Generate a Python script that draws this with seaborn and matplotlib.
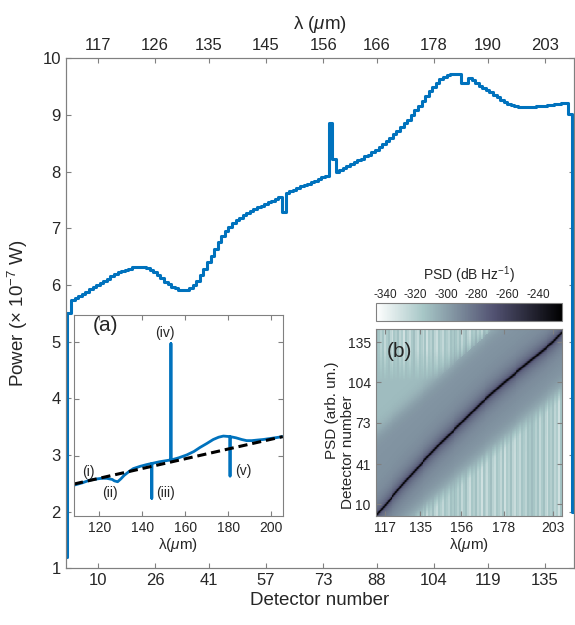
import numpy as np
import matplotlib
matplotlib.use("Agg")
import matplotlib.pyplot as plt
import seaborn as sns

# main curve: power per detector (x 1e-7 W)
detector = np.arange(1, 144)
power = [
    1.20, 5.50, 5.74, 5.77, 5.80, 5.84, 5.88, 5.93, 5.97, 6.00,
    6.04, 6.07, 6.11, 6.15, 6.19, 6.23, 6.25, 6.27, 6.29, 6.31,
    6.32, 6.32, 6.32, 6.30, 6.27, 6.23, 6.17, 6.12, 6.06, 6.01,
    5.97, 5.94, 5.92, 5.92, 5.92, 5.95, 6.00, 6.07, 6.17, 6.28,
    6.40, 6.52, 6.64, 6.76, 6.86, 6.95, 7.03, 7.09, 7.15, 7.19,
    7.23, 7.27, 7.30, 7.34, 7.37, 7.40, 7.43, 7.46, 7.49, 7.52,
    7.55, 7.28, 7.62, 7.65, 7.68, 7.71, 7.74, 7.76, 7.79, 7.82,
    7.84, 7.87, 7.90, 7.93, 8.85, 8.23, 8.00, 8.03, 8.07, 8.10,
    8.14, 8.17, 8.20, 8.23, 8.27, 8.30, 8.34, 8.38, 8.43, 8.48,
    8.54, 8.60, 8.66, 8.72, 8.78, 8.85, 8.92, 9.00, 9.08, 9.16,
    9.25, 9.34, 9.42, 9.50, 9.57, 9.63, 9.67, 9.70, 9.72, 9.73,
    9.73, 9.56, 9.56, 9.65, 9.61, 9.57, 9.52, 9.48, 9.44, 9.40,
    9.35, 9.31, 9.27, 9.23, 9.20, 9.17, 9.15, 9.14, 9.14, 9.14,
    9.14, 9.14, 9.15, 9.15, 9.16, 9.17, 9.18, 9.19, 9.20, 9.21,
    9.21, 9.02, 2.00,
]
det_ticks = [10, 26, 41, 57, 73, 88, 104, 119, 135]
lam_labels = ["117", "126", "135", "145", "156", "166", "178", "190", "203"]

# inset (a): spectrum with the five features
lam_a = [108.2, 112, 115.7, 119, 121.1, 123.4, 126, 127, 128.5, 130, 131.5,
         133.5, 135.8, 139, 142, 144.4, 144.4, 144.4, 148, 152.9, 153.3,
         153.3, 153.3, 157, 160.7, 164, 166.8, 170, 173, 175.5, 177.7,
         180.8, 180.8, 180.8, 183.5, 186.2, 188.5, 190.9, 193.5, 196.3,
         200, 205.3]
psd_a = [0.49, 0.53, 0.58, 0.60, 0.61, 0.61, 0.59, 0.565, 0.55, 0.60, 0.66,
         0.72, 0.78, 0.82, 0.85, 0.87, 0.26, 0.87, 0.90, 0.93, 0.93,
         2.97, 0.93, 0.97, 1.02, 1.08, 1.15, 1.22, 1.29, 1.33, 1.35,
         1.34, 0.65, 1.34, 1.32, 1.29, 1.27, 1.27, 1.28, 1.29,
         1.31, 1.34]
fit_lam = [108.2, 205.3]
fit_psd = [0.51, 1.34]
feature_labels = ["(i)", "(ii)", "(iii)", "(iv)", "(v)"]
feature_pos = [(114.7, 0.72), (125, 0.35), (150.6, 0.35), (150.6, 3.15), (186.8, 0.74)]

# inset (b): ridge of the PSD map (lambda vs detector) and band edges
ridge_lam = [100, 112, 117, 126, 135, 145, 156, 166, 178, 190, 203, 208, 220]
ridge_det = [-19, 1.5, 10, 26, 41, 57, 73, 88, 104, 119, 135, 143, 158]
upper_lam = [112, 172, 208]
upper_det = [65, 145, 190]
lower_lam = [112, 129, 208]
lower_det = [-20, 1.5, 103]
streak_db = [0, -6, -14, -4, -20, -9, -2, -16, -24, -7, -12, -3, -18, -10,
             -26, -5, -13, -21, -8, -1, -15, -22, -6, -11, -19, -4, -25, -9,
             -14, -2, -17, -23, -7, -12, -20, -5, -10, -16, -3, -8]
psd_ticks = [-340, -320, -300, -280, -260, -240]

sns.set_style("ticks")
plt.rcParams["font.family"] = ["Liberation Sans", "DejaVu Sans"]
plt.rcParams["mathtext.fontset"] = "custom"
plt.rcParams["mathtext.rm"] = "Liberation Sans"
plt.rcParams["mathtext.it"] = "Liberation Sans:italic"
plt.rcParams["xtick.direction"] = "in"
plt.rcParams["ytick.direction"] = "in"

blue = "#0072BD"
edge = "0.5"
txt = "0.15"

W, H = 575, 625
fig = plt.figure(figsize=(W / 100, H / 100), dpi=100)


def rect(x0, y0, x1, y1):
    return [x0 / W, 1 - y1 / H, (x1 - x0) / W, (y1 - y0) / H]


def style(a, size):
    for s in a.spines.values():
        s.set_color(edge)
        s.set_linewidth(0.8)
    a.tick_params(colors=edge, labelcolor=txt, labelsize=size, width=0.8, length=3.5)


# main axes
ax = fig.add_axes(rect(65.7, 58.3, 573.5, 568.3))
sns.lineplot(x=detector, y=power, ax=ax, drawstyle="steps-mid", color=blue, lw=2.2)
ax.set_xlim(1, 143)
ax.set_ylim(1, 10)
ax.set_xticks(det_ticks)
ax.set_yticks(range(1, 11))
ax.tick_params(right=True, top=False)
style(ax, 12)
ax.set_xlabel("Detector number", fontsize=13.5, color=txt, labelpad=3)
ax.set_ylabel("Power (\u00d7 10$^{-7}$ W)", fontsize=13.5, color=txt, labelpad=9)

axt = ax.twiny()
axt.set_xlim(1, 143)
axt.set_xticks(det_ticks)
axt.set_xticklabels(lam_labels)
style(axt, 12)
axt.set_xlabel("\u03bb ($\\mu$m)", fontsize=13.5, color=txt, labelpad=7)

# inset (a)
axa = fig.add_axes(rect(74, 315, 282.7, 516))
axa.set_facecolor("white")
sns.lineplot(x=lam_a, y=psd_a, ax=axa, sort=False, estimator=None, color=blue, lw=2.0)
axa.plot(fit_lam, fit_psd, color="k", lw=2.2, dashes=(3, 1.6))
axa.set_xlim(108.2, 205.3)
axa.set_ylim(-0.05, 3.47)
axa.set_xticks([120, 140, 160, 180, 200])
axa.set_yticks([1, 2, 3])
axa.set_yticklabels([])
axa.tick_params(top=True, right=True)
style(axa, 10)
axa.set_xlabel("\u03bb($\\mu$m)", fontsize=11, color=txt, labelpad=1)
axa.set_ylabel("")
axa.text(122.7, 3.28, "(a)", fontsize=15, color=txt, ha="center", va="center")
for lab, (lx, ly) in zip(feature_labels, feature_pos):
    axa.text(lx, ly, lab, fontsize=10, color=txt, ha="center", va="center")

# inset (b): PSD map
lam_grid = np.linspace(112, 208, 193)
det_grid = np.linspace(1, 145, 289)
L, D = np.meshgrid(lam_grid, det_grid)
d = D - np.interp(L, ridge_lam, ridge_det)
up = np.interp(L, upper_lam, upper_det)
lo = np.interp(L, lower_lam, lower_det)
band = 1 / (1 + np.exp(-(D - lo) / 4)) / (1 + np.exp(-(up - D) / 4))
col = np.floor(lam_grid - 112).astype(int) % len(streak_db)
streak = np.asarray(streak_db, dtype=float)[col][None, :]
amp = np.where(D > up, np.clip((D - 105) / 25, 0, 1), np.clip((lo - D) / 12, 0, 1))
psd_map = (-311 + 16 * band + 28 * np.exp(-np.abs(d) / 8)
           + 40 * np.exp(-(d / 1.3) ** 2) + 0.7 * streak * amp * (1 - band))

axb = fig.add_axes(rect(375.7, 329.3, 562.3, 516))
im = axb.imshow(psd_map, origin="lower", extent=[112, 208, 1, 145], aspect="auto",
                cmap="bone_r", vmin=-346, vmax=-224, interpolation="nearest")
axb.set_xlim(112, 208)
axb.set_ylim(1, 145)
axb.set_xticks([117, 135, 156, 178, 203])
axb.set_yticks([10, 41, 73, 104, 135])
axb.tick_params(top=True, right=True)
style(axb, 10)
axb.set_xlabel("\u03bb($\\mu$m)", fontsize=11, color=txt, labelpad=1)
axb.text(0.06, 0.93, "(b)", transform=axb.transAxes, fontsize=15, color=txt,
         ha="left", va="top")
fig.text(348 / W, 1 - 452 / H, "Detector number", rotation=90, fontsize=11,
         color=txt, ha="center", va="center")
fig.text(332 / W, 1 - 410 / H, "PSD (arb. un.)", rotation=90, fontsize=11,
         color=txt, ha="center", va="center")

cax = fig.add_axes(rect(375.7, 302.7, 562.3, 320.7))
cb = fig.colorbar(im, cax=cax, orientation="horizontal", ticks=psd_ticks)
cax.xaxis.set_ticks_position("top")
cax.xaxis.set_label_position("top")
cb.outline.set_edgecolor(edge)
cb.outline.set_linewidth(0.8)
cax.tick_params(colors=edge, labelcolor=txt, labelsize=8.5, length=2.5, pad=1.5)
cax.set_xticklabels([str(t) for t in psd_ticks])
cb.set_label("PSD (dB Hz$^{-1}$)", fontsize=10, color=txt, labelpad=6)

fig.savefig("out.png", dpi=100)
